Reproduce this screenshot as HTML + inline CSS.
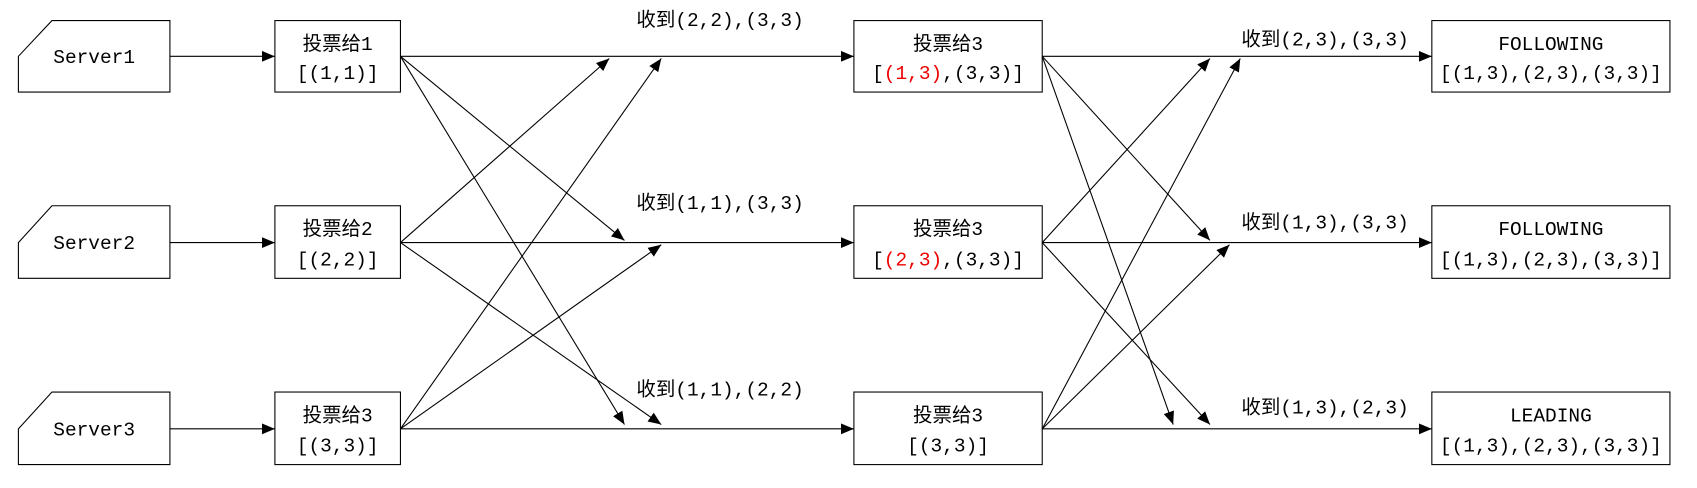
<!DOCTYPE html>
<html><head><meta charset="utf-8"><style>
html,body{margin:0;padding:0;background:#fff;}
svg text{font-family:"Liberation Mono","Noto Sans CJK SC",monospace;font-size:18px;fill:#000;}
</style></head><body>
<svg width="1697" height="483" viewBox="0 0 1568 446" preserveAspectRatio="none" xmlns="http://www.w3.org/2000/svg">
<defs><marker id="ah" markerWidth="12" markerHeight="10" refX="12" refY="5" orient="auto" markerUnits="userSpaceOnUse"><path d="M0,0 L12,5 L0,10 z" fill="#000"/></marker></defs>
<g fill="#fff" stroke="#000" stroke-width="1">
<path d="M17,52 L48,19 L157,19 L157,85 L17,85 Z"/>
<path d="M17,224 L48,190 L157,190 L157,257 L17,257 Z"/>
<path d="M17,396 L48,362 L157,362 L157,429 L17,429 Z"/>
<rect x="254" y="19" width="116" height="66"/>
<rect x="254" y="190" width="116" height="67"/>
<rect x="254" y="362" width="116" height="67"/>
<rect x="789" y="19" width="174" height="66"/>
<rect x="789" y="190" width="174" height="67"/>
<rect x="789" y="362" width="174" height="67"/>
<rect x="1323" y="19" width="220" height="66"/>
<rect x="1323" y="190" width="220" height="67"/>
<rect x="1323" y="362" width="220" height="67"/>
</g>
<g stroke="#000" stroke-width="1" fill="none" marker-end="url(#ah)">
<line x1="157" y1="52" x2="254" y2="52"/><line x1="157" y1="224" x2="254" y2="224"/><line x1="157" y1="396" x2="254" y2="396"/>
<line x1="370" y1="52" x2="789" y2="52"/><line x1="370" y1="224" x2="789" y2="224"/><line x1="370" y1="396" x2="789" y2="396"/>
<line x1="963" y1="52" x2="1323" y2="52"/><line x1="963" y1="224" x2="1323" y2="224"/><line x1="963" y1="396" x2="1323" y2="396"/>
<line x1="370" y1="52" x2="577" y2="222"/><line x1="370" y1="52" x2="577" y2="392"/>
<line x1="370" y1="224" x2="563" y2="54"/><line x1="370" y1="224" x2="611" y2="392"/>
<line x1="370" y1="396" x2="611" y2="54"/><line x1="370" y1="396" x2="611" y2="226"/>
<line x1="963" y1="52" x2="1118" y2="222"/><line x1="963" y1="52" x2="1084" y2="392"/>
<line x1="963" y1="224" x2="1118" y2="54"/><line x1="963" y1="224" x2="1118" y2="392"/>
<line x1="963" y1="396" x2="1146" y2="54"/><line x1="963" y1="396" x2="1136" y2="226"/>
</g>
<g text-anchor="middle">
<text x="87" y="58">Server1</text>
<text x="87" y="230">Server2</text>
<text x="87" y="402">Server3</text>
<text x="312" y="46">投票给1</text><text x="312" y="73">[(1,1)]</text>
<text x="312" y="217">投票给2</text><text x="312" y="245">[(2,2)]</text>
<text x="312" y="389">投票给3</text><text x="312" y="417">[(3,3)]</text>
<text x="876" y="46">投票给3</text><text x="876" y="73">[<tspan fill="#e00">(1,3)</tspan>,(3,3)]</text>
<text x="876" y="217">投票给3</text><text x="876" y="245">[<tspan fill="#e00">(2,3)</tspan>,(3,3)]</text>
<text x="876" y="389">投票给3</text><text x="876" y="417">[(3,3)]</text>
<text x="1433" y="46">FOLLOWING</text><text x="1433" y="73">[(1,3),(2,3),(3,3)]</text>
<text x="1433" y="217">FOLLOWING</text><text x="1433" y="245">[(1,3),(2,3),(3,3)]</text>
<text x="1433" y="389">LEADING</text><text x="1433" y="417">[(1,3),(2,3),(3,3)]</text>
</g>
<g>
<text x="588" y="24">收到(2,2),(3,3)</text>
<text x="588" y="193">收到(1,1),(3,3)</text>
<text x="588" y="365">收到(1,1),(2,2)</text>
<text x="1147" y="42">收到(2,3),(3,3)</text>
<text x="1147" y="211">收到(1,3),(3,3)</text>
<text x="1147" y="382">收到(1,3),(2,3)</text>
</g>
</svg>
</body></html>
